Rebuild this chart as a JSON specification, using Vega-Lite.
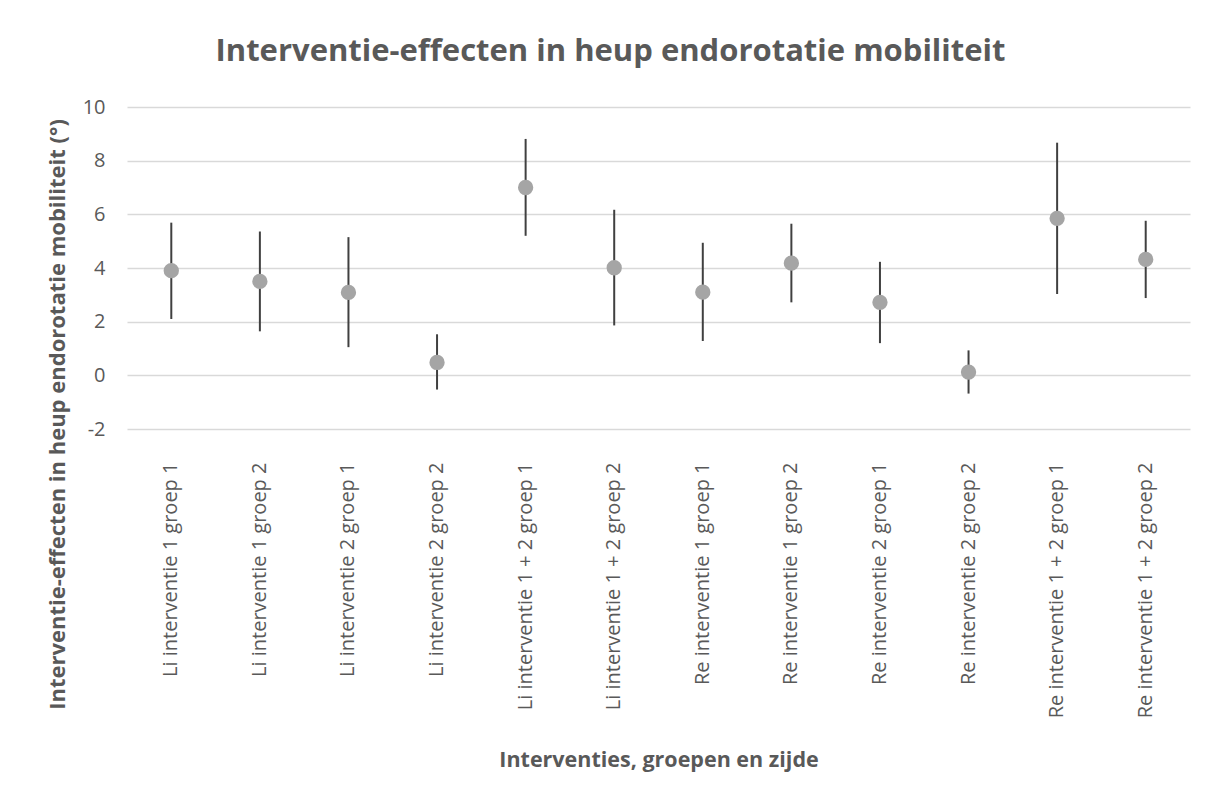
{
  "$schema": "https://vega.github.io/schema/vega-lite/v6.json",
  "width": 1063,
  "height": 322,
  "autosize": {"type": "none"},
  "padding": {"left": 127, "top": 107, "right": 23, "bottom": 369},
  "background": "white",
  "title": {
    "text": "Interventie-effecten in heup endorotatie mobiliteit",
    "font": "Open Sans",
    "fontSize": 31,
    "fontWeight": "bold",
    "color": "#595959",
    "anchor": "middle",
    "dx": -48,
    "baseline": "alphabetic",
    "offset": 5
  },
  "data": {
    "values": [
      {"groep": "Li interventie 1 groep 1", "effect": 3.90, "lo": 2.10, "hi": 5.69},
      {"groep": "Li interventie 1 groep 2", "effect": 3.50, "lo": 1.64, "hi": 5.36},
      {"groep": "Li interventie 2 groep 1", "effect": 3.09, "lo": 1.05, "hi": 5.15},
      {"groep": "Li interventie 2 groep 2", "effect": 0.48, "lo": -0.53, "hi": 1.53},
      {"groep": "Li interventie 1 + 2 groep 1", "effect": 7.00, "lo": 5.20, "hi": 8.81},
      {"groep": "Li interventie 1 + 2 groep 2", "effect": 4.01, "lo": 1.86, "hi": 6.17},
      {"groep": "Re interventie 1 groep 1", "effect": 3.10, "lo": 1.28, "hi": 4.94},
      {"groep": "Re interventie 1 groep 2", "effect": 4.18, "lo": 2.72, "hi": 5.65},
      {"groep": "Re interventie 2 groep 1", "effect": 2.72, "lo": 1.20, "hi": 4.23},
      {"groep": "Re interventie 2 groep 2", "effect": 0.12, "lo": -0.68, "hi": 0.93},
      {"groep": "Re interventie 1 + 2 groep 1", "effect": 5.85, "lo": 3.03, "hi": 8.67},
      {"groep": "Re interventie 1 + 2 groep 2", "effect": 4.32, "lo": 2.88, "hi": 5.76}
    ]
  },
  "encoding": {
    "x": {
      "field": "groep",
      "type": "nominal",
      "sort": null,
      "scale": {"type": "band", "paddingInner": 0, "paddingOuter": 0},
      "axis": {
        "title": "Interventies, groepen en zijde",
        "titleFont": "Open Sans",
        "titleFontSize": 21.5,
        "titleFontWeight": "bold",
        "titleColor": "#595959",
        "titleBaseline": "middle",
        "titleY": 331,
        "labelFont": "Open Sans",
        "labelFontSize": 20,
        "labelColor": "#595959",
        "labelAngle": 270,
        "labelAlign": "right",
        "labelBaseline": "middle",
        "labelPadding": 33,
        "labelLimit": 400,
        "domain": false,
        "ticks": false,
        "grid": false
      }
    }
  },
  "layer": [
    {
      "mark": {"type": "rule", "color": "#404040", "strokeWidth": 2},
      "encoding": {
        "y": {
          "field": "lo",
          "type": "quantitative",
          "scale": {"domain": [-2, 10], "nice": false, "zero": false},
          "axis": {
            "title": "Interventie-effecten in heup endorotatie mobiliteit (°)",
            "titleFont": "Open Sans",
            "titleFontSize": 22,
            "titleFontWeight": "bold",
            "titleColor": "#595959",
            "titleBaseline": "middle",
            "titleAngle": 270,
            "titleX": -70,
            "titleY": 307,
            "values": [-2, 0, 2, 4, 6, 8, 10],
            "labelExpr": "datum.value + ''",
            "labelFont": "Open Sans",
            "labelFontSize": 20,
            "labelColor": "#595959",
            "labelPadding": 22,
            "domain": false,
            "ticks": false,
            "grid": true,
            "gridColor": "#d9d9d9",
            "gridWidth": 1.5
          }
        },
        "y2": {"field": "hi"}
      }
    },
    {
      "mark": {"type": "point", "shape": "circle", "filled": true, "color": "#a5a5a5", "opacity": 1, "size": 235},
      "encoding": {
        "y": {"field": "effect", "type": "quantitative"}
      }
    }
  ],
  "config": {"view": {"stroke": null}}
}
